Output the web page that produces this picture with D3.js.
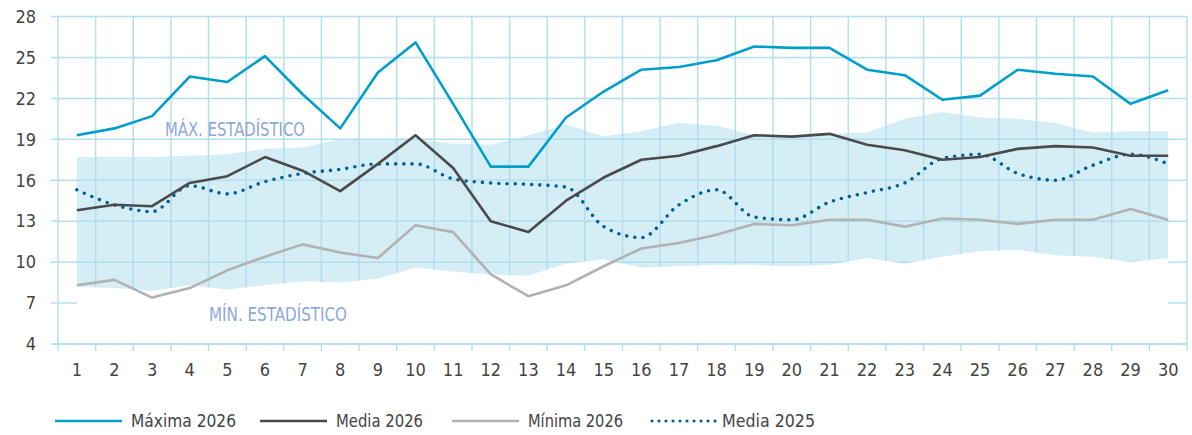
<!DOCTYPE html>
<html>
  <head>
    <meta charset="utf-8">
    <script src="https://d3js.org/d3.v7.min.js"></script>
    <style>
      body { margin: 0; background: #fff; }
      svg text { font-family: "DejaVu Sans Condensed", "Liberation Sans Narrow", "DejaVu Sans", sans-serif; font-stretch: condensed; }
    </style>
  </head>
  <body>

    <svg width="1192" height="435"></svg>

    <script>

      var days = d3.range(1, 31);
      var yTicks = [4, 7, 10, 13, 16, 19, 22, 25, 28];

      var maxima2026 = [19.3, 19.8, 20.7, 23.6, 23.2, 25.1, 22.3, 19.8, 23.9, 26.1,
                        21.6, 17.0, 17.0, 20.6, 22.5, 24.1, 24.3, 24.8, 25.8, 25.7,
                        25.7, 24.1, 23.7, 21.9, 22.2, 24.1, 23.8, 23.6, 21.6, 22.6];
      var media2026 = [13.8, 14.2, 14.1, 15.8, 16.3, 17.7, 16.7, 15.2, 17.2, 19.3,
                       16.9, 13.0, 12.2, 14.5, 16.2, 17.5, 17.8, 18.5, 19.3, 19.2,
                       19.4, 18.6, 18.2, 17.5, 17.7, 18.3, 18.5, 18.4, 17.8, 17.8];
      var minima2026 = [8.3, 8.7, 7.4, 8.1, 9.4, 10.4, 11.3, 10.7, 10.3, 12.7,
                        12.2, 9.1, 7.5, 8.3, 9.7, 11.0, 11.4, 12.0, 12.8, 12.7,
                        13.1, 13.1, 12.6, 13.2, 13.1, 12.8, 13.1, 13.1, 13.9, 13.1];
      var media2025 = [15.3, 14.2, 13.7, 15.6, 15.0, 15.9, 16.5, 16.8, 17.2, 17.2,
                       16.1, 15.8, 15.7, 15.5, 12.6, 11.8, 14.2, 15.3, 13.3, 13.1,
                       14.4, 15.1, 15.8, 17.6, 17.9, 16.5, 16.0, 17.1, 17.9, 17.2];
      var maxEstadistico = [17.7, 17.7, 17.7, 17.8, 17.9, 18.3, 18.4, 19.0, 19.0, 19.0,
                            18.7, 18.6, 19.3, 20.1, 19.2, 19.6, 20.2, 20.0, 19.3, 19.2,
                            19.4, 19.5, 20.5, 21.0, 20.6, 20.5, 20.2, 19.5, 19.6, 19.6];
      var minEstadistico = [8.2, 8.1, 7.9, 8.3, 8.0, 8.3, 8.6, 8.5, 8.8, 9.6,
                            9.3, 9.1, 9.0, 9.9, 10.2, 9.6, 9.7, 9.8, 9.8, 9.7,
                            9.8, 10.3, 9.9, 10.4, 10.8, 10.9, 10.5, 10.4, 10.0, 10.3];

      var series = [
        {name: "Máxima 2026", values: maxima2026, color: "#009fcb", dotted: false},
        {name: "Media 2026", values: media2026, color: "#4a4a4a", dotted: false},
        {name: "Mínima 2026", values: minima2026, color: "#b2b2b2", dotted: false},
        {name: "Media 2025", values: media2025, color: "#005f99", dotted: true}
      ];

      var svg = d3.select("svg");
      var gridColor = "#b3e0ef";

      var x = d3.scaleBand().domain(days).range([58, 1187]);
      var y = d3.scaleLinear().domain([4, 28]).range([344, 16.5]);
      var cx = function(d) { return x(d) + x.bandwidth() / 2; };

      // grid
      var grid = svg.append("g");
      grid.selectAll(".hgrid")
          .data(yTicks)
        .enter().append("line")
          .attr("x1", 51).attr("x2", 1187)
          .attr("y1", function(d) { return y(d); })
          .attr("y2", function(d) { return y(d); })
          .attr("stroke", gridColor).attr("stroke-width", 1.5);
      var edges = days.map(function(d) { return x(d); }).concat([x.range()[1]]);
      grid.selectAll(".vgrid")
          .data(edges)
        .enter().append("line")
          .attr("x1", function(d) { return d; }).attr("x2", function(d) { return d; })
          .attr("y1", y(28)).attr("y2", y(4) + 7)
          .attr("stroke", gridColor).attr("stroke-width", 1.5);

      // white area below min statistic, then the statistical band
      var lowArea = d3.area()
          .x(function(d, i) { return cx(days[i]); })
          .y0(y(4) - 1)
          .y1(function(d) { return y(d); });
      svg.append("path")
          .attr("d", lowArea(minEstadistico))
          .attr("fill", "#fff");

      var band = d3.area()
          .x(function(d, i) { return cx(days[i]); })
          .y0(function(d, i) { return y(minEstadistico[i]); })
          .y1(function(d) { return y(d); });
      svg.append("path")
          .attr("d", band(maxEstadistico))
          .attr("fill", "#aedcec")
          .attr("opacity", 0.52);

      svg.append("line")
          .attr("x1", 51).attr("x2", 1187)
          .attr("y1", y(4)).attr("y2", y(4))
          .attr("stroke", gridColor).attr("stroke-width", 1.5);

      svg.append("text")
          .attr("x", 165).attr("y", 135.5)
          .attr("fill", "#8ca7da")
          .attr("textLength", 140).attr("lengthAdjust", "spacingAndGlyphs")
          .style("font-size", "20px")
          .text("MÁX. ESTADÍSTICO");
      svg.append("text")
          .attr("x", 209).attr("y", 320.5)
          .attr("fill", "#8ca7da")
          .attr("textLength", 138).attr("lengthAdjust", "spacingAndGlyphs")
          .style("font-size", "20px")
          .text("MÍN. ESTADÍSTICO");

      // axis labels
      svg.append("g").selectAll("text")
          .data(yTicks)
        .enter().append("text")
          .attr("x", 36)
          .attr("y", function(d) { return y(d); })
          .attr("dy", "0.35em")
          .attr("text-anchor", "end")
          .attr("fill", "#444")
          .style("font-size", "18px")
          .text(function(d) { return d; });

      svg.append("g").selectAll("text")
          .data(days)
        .enter().append("text")
          .attr("x", cx)
          .attr("y", 370)
          .attr("dy", "0.35em")
          .attr("text-anchor", "middle")
          .attr("fill", "#444")
          .style("font-size", "18px")
          .text(function(d) { return d; });

      // lines
      var straight = d3.line()
          .x(function(d, i) { return cx(days[i]); })
          .y(function(d) { return y(d); });
      var smooth = d3.line()
          .curve(d3.curveMonotoneX)
          .x(function(d, i) { return cx(days[i]); })
          .y(function(d) { return y(d); });

      series.slice().reverse().forEach(function(s) {
        svg.append("path")
            .attr("d", s.dotted ? smooth(s.values) : straight(s.values))
            .attr("fill", "none")
            .attr("stroke", s.color)
            .attr("stroke-width", s.dotted ? 3.6 : 2.6)
            .attr("stroke-linecap", s.dotted ? "round" : "butt")
            .attr("stroke-linejoin", "round")
            .attr("stroke-dasharray", s.dotted ? "0 8.2" : null);
      });

      // legend
      var legendX = [55, 260, 452, 652];
      var legendW = [105, 87, 95, 93];
      var legend = svg.append("g").selectAll("g")
          .data(series)
        .enter().append("g")
          .attr("transform", function(d, i) { return "translate(" + legendX[i] + ",421)"; });
      legend.append("line")
          .attr("x1", 0).attr("x2", function(d) { return d.dotted ? 64 : 67; })
          .attr("stroke", function(d) { return d.color; })
          .attr("stroke-width", function(d) { return d.dotted ? 3.2 : 2.6; })
          .attr("stroke-linecap", function(d) { return d.dotted ? "round" : "butt"; })
          .attr("stroke-dasharray", function(d) { return d.dotted ? "0 7" : null; });
      legend.append("text")
          .attr("x", function(d) { return d.dotted ? 70 : 76; })
          .attr("dy", "0.35em")
          .attr("fill", "#444")
          .attr("textLength", function(d, i) { return legendW[i]; })
          .attr("lengthAdjust", "spacingAndGlyphs")
          .style("font-size", "18px")
          .text(function(d) { return d.name; });

    </script>
  </body>
</html>
